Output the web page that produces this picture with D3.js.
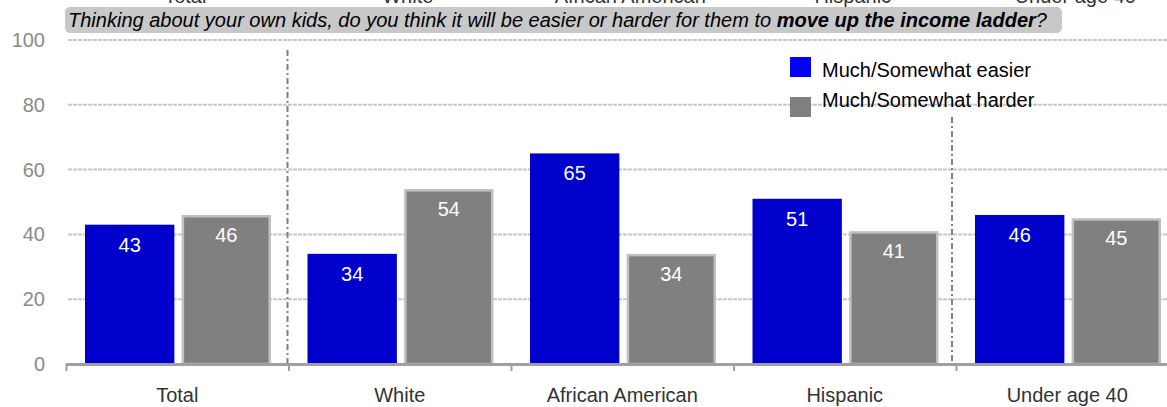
<!DOCTYPE html>
<html>
<head>
<meta charset="utf-8">
<script src="https://cdn.jsdelivr.net/npm/d3@7"></script>
<style>
  html, body { margin: 0; padding: 0; background: #fff; }
  svg { display: block; font-family: "Liberation Sans", Arial, sans-serif; }
</style>
</head>
<body>
<svg id="chart" width="1167" height="407"></svg>
<script>
const categories = ["Total", "White", "African American", "Hispanic", "Under age 40"];
const seriesNames = ["Much/Somewhat easier", "Much/Somewhat harder"];
const easier = [43, 34, 65, 51, 46];
const harder = [46, 54, 34, 41, 45];
const yTicks = [0, 20, 40, 60, 80, 100];
const titlePlain = "Thinking about your own kids, do you think it will be easier or harder for them to ";
const titleBold = "move up the income ladder";
const titleEnd = "?";

const svg = d3.select("#chart");
const W = 1167, H = 407;

const x0 = d3.scaleBand().domain(categories).range([66, 66 + 5 * 222.5]).padding(0);
const x1 = d3.scaleBand().domain(seriesNames).range([19, 205]).paddingInner(0.075);
const y = d3.scaleLinear().domain([0, 100]).range([364, 40]);
const color = d3.scaleOrdinal().domain(seriesNames).range(["#0000CC", "#808080"]);
const legendColor = d3.scaleOrdinal().domain(seriesNames).range(["#0000FF", "#808080"]);

// cut-off top labels
svg.append("g").selectAll("text").data(categories).join("text")
  .attr("x", d => x0(d) + x0.bandwidth() / 2 + 8)
  .attr("y", 3)
  .attr("text-anchor", "middle")
  .attr("font-size", 20)
  .attr("fill", "#333")
  .text(d => d);

// title box
svg.append("rect").attr("x", 65).attr("y", 7).attr("width", 997).attr("height", 26)
  .attr("rx", 5).attr("fill", "#c8c8c8");
const tt = svg.append("text").attr("x", 68).attr("y", 26.5)
  .attr("font-size", 19.5).attr("font-style", "italic").attr("fill", "#000")
  .attr("textLength", 979).attr("lengthAdjust", "spacingAndGlyphs");
tt.append("tspan").text(titlePlain);
tt.append("tspan").attr("font-weight", "bold").text(titleBold);
tt.append("tspan").text(titleEnd);

// gridlines
svg.append("g").selectAll("line").data(yTicks.filter(d => d > 0)).join("line")
  .attr("x1", 68).attr("x2", W)
  .attr("y1", d => y(d)).attr("y2", d => y(d))
  .attr("stroke", "#c8c8c8").attr("stroke-width", 2).attr("stroke-dasharray", "4,1");

// y tick labels
svg.append("g").selectAll("text").data(yTicks).join("text")
  .attr("x", 45).attr("y", d => y(d) + 7)
  .attr("text-anchor", "end").attr("font-size", 20).attr("fill", "#8a8a8a")
  .text(d => d);

// separators
const sepData = [{x: x0("White") - 1, top: 50}, {x: x0("Under age 40") - 4, top: 117}];
svg.append("g").selectAll("line").data(sepData).join("line")
  .attr("x1", d => d.x).attr("x2", d => d.x)
  .attr("y1", d => d.top).attr("y2", y(0))
  .attr("stroke", "#808080").attr("stroke-width", 2).attr("stroke-dasharray", "6,3,2,3");

// bars
const rows = categories.map((c, i) => ({cat: c, vals: [
  {s: seriesNames[0], v: easier[i]}, {s: seriesNames[1], v: harder[i]}]}));
const groups = svg.append("g").selectAll("g").data(rows).join("g")
  .attr("transform", d => `translate(${x0(d.cat)},0)`);
groups.selectAll("rect").data(d => d.vals).join("rect")
  .attr("x", d => x1(d.s) + (d.s === seriesNames[1] ? 1.25 : 0))
  .attr("y", d => y(d.v) + (d.s === seriesNames[1] ? 1.25 : 0))
  .attr("width", d => x1.bandwidth() - (d.s === seriesNames[1] ? 2.5 : 0))
  .attr("height", d => y(0) - y(d.v) - (d.s === seriesNames[1] ? 1.25 : 0))
  .attr("fill", d => color(d.s))
  .attr("stroke", d => d.s === seriesNames[1] ? "#c0c0c0" : "none")
  .attr("stroke-width", 2.5);
groups.selectAll("text").data(d => d.vals).join("text")
  .attr("x", d => x1(d.s) + x1.bandwidth() / 2)
  .attr("y", d => y(d.v) + 27)
  .attr("text-anchor", "middle").attr("font-size", 20).attr("fill", "#fff")
  .text(d => d.v);

// x axis line
svg.append("line").attr("x1", 66).attr("x2", W).attr("y1", y(0) + 0.5).attr("y2", y(0) + 0.5)
  .attr("stroke", "#a0a0a0").attr("stroke-width", 3);
svg.append("g").selectAll("line").data(categories).join("line")
  .attr("x1", d => x0(d) + 0.5).attr("x2", d => x0(d) + 0.5)
  .attr("y1", y(0)).attr("y2", y(0) + 7)
  .attr("stroke", "#a0a0a0").attr("stroke-width", 2);

// x labels
svg.append("g").selectAll("text").data(categories).join("text")
  .attr("x", d => x0(d) + x0.bandwidth() / 2)
  .attr("y", 402)
  .attr("text-anchor", "middle").attr("font-size", 20).attr("fill", "#333")
  .text(d => d);

// legend
const lg = svg.append("g").selectAll("g").data(seriesNames).join("g")
  .attr("transform", (d, i) => `translate(790,${57 + i * 40})`);
lg.append("rect").attr("width", 21).attr("height", 20).attr("fill", d => legendColor(d));
lg.append("text").attr("x", 32).attr("y", (d, i) => i === 0 ? 20 : 10)
  .attr("font-size", 20).attr("fill", "#000").text(d => d);
</script>
</body>
</html>
